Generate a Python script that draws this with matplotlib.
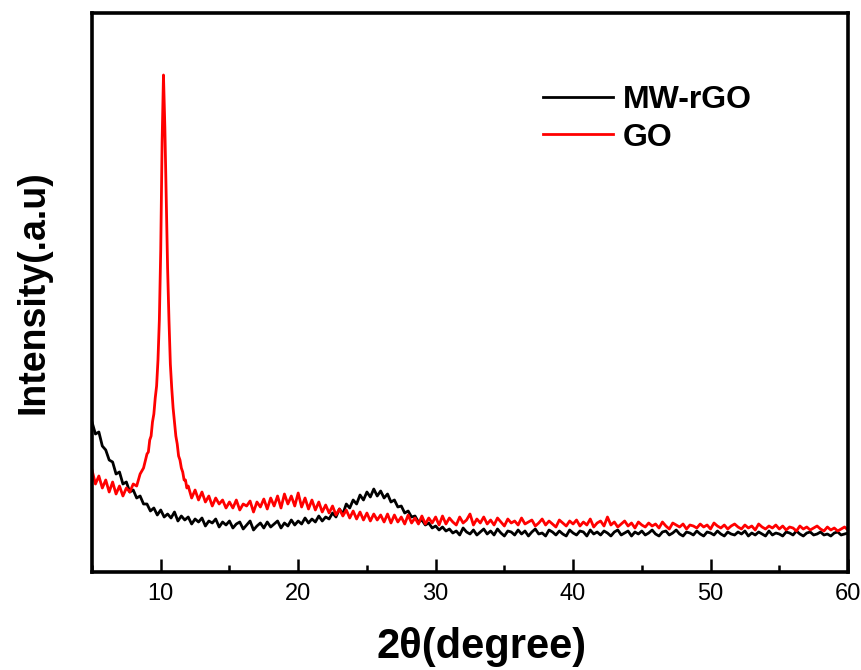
import numpy as np
import matplotlib
matplotlib.use("Agg")
import matplotlib.pyplot as plt
from matplotlib.ticker import MultipleLocator

plt.rcParams['font.family'] = ['Liberation Sans', 'DejaVu Sans']

# ---------------- data (arbitrary intensity units) ----------------
rgo_x = np.round(np.arange(5.0, 60.001, 0.25), 2)
rgo_y = [
    150, 138, 140, 126, 122, 112, 110, 98, 100, 88, 90, 80, 82, 74, 76, 68,
    68, 61, 64, 57, 62, 55, 58, 54, 60, 51, 56, 52,
    55, 48, 53, 50, 54, 46, 51, 49, 53, 45, 50, 47,
    51, 44, 48, 50, 43, 47, 51, 42, 46, 49, 44, 50,
    45, 48, 51, 44, 49, 46, 52, 47, 51, 48, 54, 49,
    53, 50, 56, 51, 55, 53, 59, 55,
    63, 58, 68, 64, 72, 68, 77, 72,
    80, 75, 83, 76, 81, 74, 78, 70,
    72, 65, 66, 59, 61, 55, 56, 50,
    52, 47, 49, 44, 46, 42, 45, 41,
    43, 39, 41, 37, 44, 40, 38, 42, 37, 40, 43, 38,
    41, 37, 43, 39, 36, 41, 40, 37, 42, 38, 41, 36,
    40, 43, 38, 39, 36, 42, 40, 37, 41, 38, 36, 42,
    39, 37, 41, 40, 36, 42, 38, 40, 37, 41, 39, 36,
    40, 42, 37, 39, 41, 36, 40, 38, 41, 37, 39, 42,
    38, 36, 40, 41, 37, 39, 42, 38, 36, 40, 39, 37,
    41, 38, 36, 40, 39, 37, 41, 38, 36, 40, 38, 37,
    40, 38, 41, 36, 39, 37, 40, 38, 36, 41, 37, 39,
    38, 36, 40, 39, 37, 41, 38, 36, 39, 40, 37, 38,
    40, 37, 38, 36, 39, 40, 37, 38, 39,
]

go_x = np.round(np.concatenate([np.arange(5.0, 8.99, 0.25),
                                np.arange(9.0, 11.95, 0.1),
                                np.arange(12.0, 60.001, 0.25)]), 2)
go_y = [
    102, 88, 96, 84, 92, 80, 90, 78, 86, 76, 84, 80, 88, 86, 98, 104,
    118, 120, 132, 136, 150, 158, 174, 186, 212, 252, 322, 430, 497, 445, 372,
    304, 252, 208, 184, 164, 150, 136, 128, 116, 112, 104, 100, 92, 92, 84,
    86, 74, 82, 72, 80, 70, 76, 66, 74, 68, 72, 64,
    70, 64, 72, 62, 68, 66, 71, 60, 70, 65, 73, 63,
    74, 66, 76, 64, 78, 68, 76, 66, 79, 65, 74, 63,
    72, 62, 70, 60, 67, 59, 66, 57,
    63, 56, 62, 54, 61, 53, 60, 52,
    59, 51, 58, 52, 57, 50, 58, 49,
    57, 50, 55, 48, 57, 49, 54, 48,
    56, 48, 54, 49, 55, 47, 56, 48,
    54, 50, 47, 55, 49, 52, 58, 47, 53, 49, 55, 48,
    52, 47, 54, 50, 46, 53, 49, 51, 47, 54, 48, 50,
    52, 46, 49, 53, 47, 51, 48, 45, 52, 49, 46, 51,
    48, 52, 46, 50, 47, 53, 45, 49, 51, 46, 55, 47,
    50, 45, 48, 51, 46, 49, 44, 50, 47, 45, 49, 46,
    48, 44, 50, 46, 43, 49, 47, 45, 48, 43, 47, 46,
    44, 48, 45, 47, 43, 49, 46, 44, 47, 43, 46, 48,
    45, 43, 47, 44, 46, 42, 48, 45, 43, 46, 44, 47,
    43, 46, 42, 45, 44, 41, 46, 43, 45, 42, 44, 46,
    43, 41, 45, 42, 44, 41, 43, 45, 42,
]

series_labels = ["MW-rGO", "GO"]
series_colors = ["#000000", "#ff0000"]
x_ticks = [10, 20, 30, 40, 50, 60]

# ---------------- figure ----------------
fig = plt.figure(figsize=(8.62, 6.70), dpi=100)
ax = fig.add_axes([92 / 862, 1 - 572 / 670, (848 - 92) / 862, (572 - 13) / 670])

ax.plot(rgo_x, rgo_y, color=series_colors[0], lw=2.0, label=series_labels[0])
ax.plot(go_x, go_y, color=series_colors[1], lw=2.0, label=series_labels[1])

ax.set_xlim(5, 60)
ax.set_ylim(0, 559)
ax.set_xticks(x_ticks)
ax.xaxis.set_minor_locator(MultipleLocator(5))
ax.set_yticks([])
ax.tick_params(axis='x', which='major', direction='in', length=9.5, width=1.8,
               labelsize=17, pad=8, top=False)
ax.tick_params(axis='x', which='minor', direction='in', length=5, width=1.8, top=False)
for s in ax.spines.values():
    s.set_linewidth(2.6)

ax.set_xlabel("2θ(degree)", fontsize=30, fontweight='bold')
ax.xaxis.set_label_coords(0.515, -0.098)
ax.xaxis.label.set_va('top')
ax.set_ylabel("Intensity(.a.u)", fontsize=27, fontweight='bold')
ax.yaxis.set_label_coords(-0.054, 0.5)

leg = ax.legend(loc='upper left', bbox_to_anchor=((543 - 92) / 756 - 0.021, (572 - 69) / 559),
                frameon=False, prop={'size': 23, 'weight': 'bold'},
                handlelength=2.2, handletextpad=0.3, labelspacing=0.24, borderpad=0)
for line in leg.get_lines():
    line.set_linewidth(2)

fig.savefig("out.png", dpi=100)
